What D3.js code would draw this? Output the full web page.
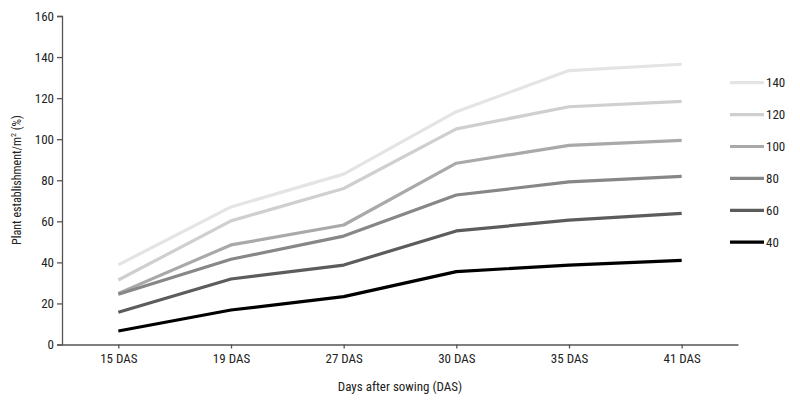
<!DOCTYPE html>
<html>
<head>
<meta charset="utf-8">
<script src="https://cdn.jsdelivr.net/npm/d3@7"></script>
<style>
  body { margin: 0; background: #fff; }
  svg text { font-family: "Liberation Sans Narrow", "Roboto Condensed", "Open Sans", sans-serif; fill: #222; }
</style>
</head>
<body>
<svg id="chart" width="800" height="400"></svg>
<script>
const categories = ["15 DAS", "19 DAS", "27 DAS", "30 DAS", "35 DAS", "41 DAS"];
const seriesNames = ["140", "120", "100", "80", "60", "40"];
const s140 = [38.8, 67, 83, 113.4, 133.4, 136.5];
const s120 = [31.4, 60.2, 76, 105, 115.8, 118.4];
const s100 = [24.9, 48.5, 58.2, 88.3, 97, 99.4];
const s80 = [24.5, 41.5, 52.8, 72.8, 79.2, 81.9];
const s60 = [15.7, 31.9, 38.7, 55.3, 60.6, 63.9];
const s40 = [6.6, 16.8, 23.3, 35.5, 38.7, 41];
const seriesValues = [s140, s120, s100, s80, s60, s40];
const seriesColors = ["#e4e4e4", "#cfcfcf", "#a9a9a9", "#878787", "#5c5c5c", "#000000"];
const yTicks = [0, 20, 40, 60, 80, 100, 120, 140, 160];

const svg = d3.select("#chart");
const mLeft = 62, mRight = 738, mTop = 16, mBottom = 344.5;

const x = d3.scalePoint().domain(categories).range([mLeft, mRight]).padding(0.5);
const y = d3.scaleLinear().domain([0, 160]).range([mBottom, mTop]);

// axes
const yAxis = d3.axisLeft(y).tickValues(yTicks).tickSize(5).tickPadding(3);
const gy = svg.append("g").attr("transform", `translate(${mLeft},0)`).call(yAxis);
gy.select(".domain").attr("stroke", "#555").attr("stroke-width", 1.3);
gy.selectAll(".tick line").attr("stroke", "#555").attr("stroke-width", 1.3);
gy.selectAll(".tick text").attr("font-size", 13).style("fill", "#222");

const xAxis = d3.axisBottom(x).tickSize(4).tickPadding(5).tickSizeOuter(0);
const gx = svg.append("g").attr("transform", `translate(0,${mBottom})`).call(xAxis);
gx.select(".domain").attr("stroke", "#555").attr("stroke-width", 1.3);
gx.selectAll(".tick line").attr("stroke", "#555").attr("stroke-width", 1.3);
gx.selectAll(".tick text").attr("font-size", 13).style("fill", "#222");

// lines
const line = d3.line().x((d, i) => x(categories[i])).y(d => y(d));
seriesValues.forEach((vals, k) => {
  svg.append("path")
    .datum(vals)
    .attr("fill", "none")
    .attr("stroke", seriesColors[k])
    .attr("stroke-width", 3.2)
    .attr("stroke-linejoin", "round")
    .attr("d", line);
});

// legend
const lg = svg.append("g");
seriesNames.forEach((name, k) => {
  const ly = 82.7 + k * 31.9;
  lg.append("line").attr("x1", 730).attr("x2", 764).attr("y1", ly).attr("y2", ly)
    .attr("stroke", seriesColors[k]).attr("stroke-width", 3.2);
  lg.append("text").attr("x", 766).attr("y", ly + 4.5).attr("font-size", 13).text(name);
});

// axis titles
svg.append("text").attr("x", 400).attr("y", 391).attr("text-anchor", "middle")
  .attr("font-size", 13).text("Days after sowing (DAS)");
const yl = svg.append("text").attr("transform", "translate(21,180) rotate(-90)")
  .attr("text-anchor", "middle").attr("font-size", 12);
yl.append("tspan").text("Plant establishment/m");
yl.append("tspan").attr("font-size", 8).attr("dy", -5).text("2");
yl.append("tspan").attr("dy", 5).text(" (%)");
</script>
</body>
</html>
